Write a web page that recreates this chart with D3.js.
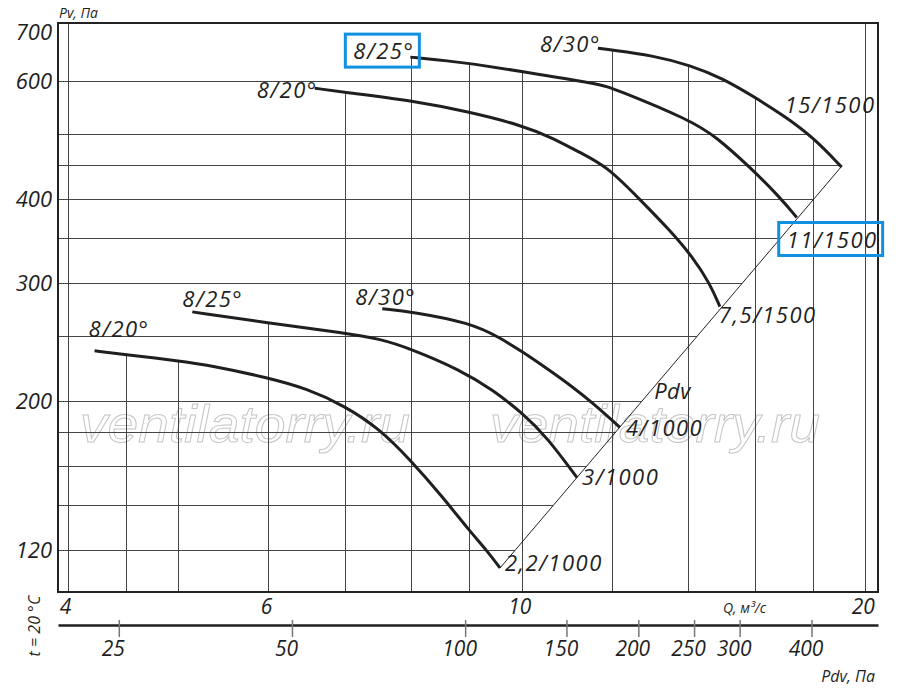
<!DOCTYPE html>
<html lang="ru">
<head>
<meta charset="UTF-8">
<title>Pv / Q</title>
<script src="https://d3js.org/d3.v7.min.js"></script>
<style>
  body { margin: 0; background: #fff; }
  svg { font-family: "Open Sans", sans-serif; font-style: italic; }
  .grid line { stroke: #444; stroke-width: 1; shape-rendering: crispEdges; }
  .curve { fill: none; stroke: #1f1f1f; stroke-width: 3; stroke-linecap: butt; }
  .lbl { font-size: 22px; fill: #1f1f1f; letter-spacing: 1.5px; }
  .small { font-size: 15px; fill: #1f1f1f; }
  .mark { fill: none; stroke: #1090e0; stroke-width: 3; }
  .wm { font-family: "Liberation Sans", sans-serif; font-size: 52px; fill: none; stroke: #c6c6c6; stroke-width: 1; }
</style>
</head>
<body>
<svg id="chart" width="900" height="692"></svg>
<script>
// axes
const qTicks = [4, 6, 10, 20];
const pTicks = [120, 200, 300, 400, 600, 700];
const pdvTicks = [25, 50, 100, 150, 200, 250, 300, 400];
const qGrid = [4, 4.5, 5, 6, 7, 8, 9, 10, 12, 14, 16, 18, 20];
const pGrid = [120, 140, 160, 180, 200, 250, 300, 350, 400, 450, 500, 600];

// n = 1000 rpm
const qLow20 = [4.22, 4.49, 4.98, 5.36, 5.98, 6.48, 6.99, 7.50, 7.97, 8.52, 9.0, 9.31, 9.56];
const pLow20 = [238, 235, 230, 226, 217, 209, 197, 182, 164, 144, 128, 120, 113];
const qLow25 = [5.14, 5.98, 6.99, 7.50, 7.97, 8.82, 9.43, 10.01, 10.51, 11.17];
const pLow25 = [272, 262, 253, 248, 240, 223, 208, 192, 177, 154];
const qLow30 = [7.54, 8.02, 9.0, 9.56, 10.01, 10.51, 11.08, 11.53, 12.18];
const pLow30 = [275, 272, 262, 249, 237, 224, 210, 199, 183];

// n = 1500 rpm
const qHigh20 = [6.58, 6.98, 8.0, 9.0, 9.99, 10.64, 11.23, 11.87, 12.68, 13.47, 14.11, 14.60, 14.90];
const pHigh20 = [586, 578, 562, 540, 516, 494, 470, 448, 400, 360, 328, 300, 277];
const qHigh25 = [7.98, 8.65, 9.0, 9.99, 11.70, 12.01, 14.05, 14.81, 15.83, 16.82, 17.40];
const pHigh25 = [652, 643, 638, 621, 594, 586, 525, 495, 447, 403, 376];
const qHigh30 = [11.65, 12.01, 12.99, 14.05, 14.99, 15.99, 16.99, 18.01, 19.05];
const pHigh30 = [672, 668, 656, 634, 606, 568, 532, 494, 447];

const startNames = ["8/20°", "8/25°", "8/30°", "8/20°", "8/25°", "8/30°"];
const endNames = ["2,2/1000", "3/1000", "4/1000", "7,5/1500", "11/1500", "15/1500"];

// Pdv = K * Q^2
const K = 1.235;

const series = [
  [qLow20, pLow20], [qLow25, pLow25], [qLow30, pLow30],
  [qHigh20, pHigh20], [qHigh25, pHigh25], [qHigh30, pHigh30]
].map(([q, p], i) => ({ q, p, start: startNames[i], end: endNames[i],
  pts: q.map((v, j) => [v, p[j]]) }));

const svg = d3.select("#chart");
const L = 58, R = 878, T = 23, B = 592;

const x = d3.scaleLog().domain([3.92, 20.5]).range([L, R]);
const y = d3.scaleLog().domain([104, 733]).range([B, T]);
const pdv = d3.scaleLog().domain([19.6, 522]).range([L, R]);

// log-log interpolation helpers
function pAtQ(c, q) {
  const n = c.q.length;
  if (q < c.q[0] || q > c.q[n - 1]) return null;
  for (let i = 0; i < n - 1; i++) {
    if (q >= c.q[i] && q <= c.q[i + 1]) {
      const t = Math.log(q / c.q[i]) / Math.log(c.q[i + 1] / c.q[i]);
      return Math.exp(Math.log(c.p[i]) + t * Math.log(c.p[i + 1] / c.p[i]));
    }
  }
  return null;
}
function qAtP(c, p) {
  const n = c.p.length;
  for (let i = 0; i < n - 1; i++) {
    if (p <= c.p[i] && p >= c.p[i + 1]) {
      const t = Math.log(p / c.p[i]) / Math.log(c.p[i + 1] / c.p[i]);
      return Math.exp(Math.log(c.q[i]) + t * Math.log(c.q[i + 1] / c.q[i]));
    }
  }
  return null;
}

// watermark
["ventilatorry.ru", "ventilatorry.ru"].forEach((t, i) => {
  svg.append("text").attr("class", "wm")
    .attr("x", i ? 490 : 80).attr("y", 442)
    .attr("textLength", 330).attr("lengthAdjust", "spacingAndGlyphs")
    .text(t);
});

// grid, cut by the curves and the Pdv line
const qDiagA = qLow20[qLow20.length - 1];
const qDiagB = qHigh30[qHigh30.length - 1];
const pDiagTop = K * qDiagB * qDiagB;

const grid = svg.append("g").attr("class", "grid");
qGrid.forEach(q => {
  const tops = series.map(c => pAtQ(c, q)).filter(v => v != null);
  grid.append("line")
    .attr("x1", x(q)).attr("x2", x(q))
    .attr("y1", tops.length ? y(d3.max(tops)) : T)
    .attr("y2", B);
});
pGrid.forEach(p => {
  let qr;
  if (p <= pDiagTop) qr = Math.sqrt(p / K);
  else qr = d3.max(series.map(c => qAtP(c, p)).filter(v => v != null));
  grid.append("line")
    .attr("x1", L).attr("x2", x(qr))
    .attr("y1", y(p)).attr("y2", y(p));
});

// frame
svg.append("rect").attr("x", L).attr("y", T)
  .attr("width", R - L).attr("height", B - T)
  .attr("fill", "none").attr("stroke", "#222").attr("stroke-width", 2);

// Pdv line
const diag = [qDiagA, qDiagB].map(q => [q, K * q * q]);
svg.append("path")
  .attr("d", d3.line().x(d => x(d[0])).y(d => y(d[1]))(diag))
  .attr("fill", "none").attr("stroke", "#222").attr("stroke-width", 1);

// curves
const line = d3.line().x(d => x(d[0])).y(d => y(d[1])).curve(d3.curveBasis);
svg.selectAll(".curve").data(series).join("path")
  .attr("class", "curve").attr("d", d => line(d.pts));

// curve labels: [dx, dy, anchor] from first / last point
const startOff = [[-6, -14, "start"], [-10, -5, "start"], [-27, -4, "start"],
                  [3, 10, "end"], [4, 2, "end"], [3, 4, "end"]];
const endOff = [[5, 3], [5, 7], [6, 9], [-1, 16], [-10, 30], [-57, -54]];
const marked = [];
series.forEach((c, i) => {
  const a = c.pts[0], b = c.pts[c.pts.length - 1];
  const s = svg.append("text").attr("class", "lbl")
    .attr("x", x(a[0]) + startOff[i][0]).attr("y", y(a[1]) + startOff[i][1])
    .attr("text-anchor", startOff[i][2]).text(c.start);
  const e = svg.append("text").attr("class", "lbl")
    .attr("x", x(b[0]) + endOff[i][0]).attr("y", y(b[1]) + endOff[i][1])
    .text(c.end);
  if (i === 4) { marked.push(s, e); }
});
const pPdv = 202;
svg.append("text").attr("class", "lbl").style("letter-spacing", "0.5px")
  .attr("x", x(Math.sqrt(pPdv / K)) + 10).attr("y", y(pPdv)).text("Pdv");

// highlight boxes
marked.forEach(t => {
  const bb = t.node().getBBox();
  svg.append("rect").attr("class", "mark")
    .attr("x", bb.x - 8).attr("y", bb.y - 1)
    .attr("width", bb.width + 13).attr("height", bb.height + 3);
});

// axes
const yAxis = svg.append("g").attr("transform", `translate(${L},0)`)
  .call(d3.axisLeft(y).tickValues(pTicks).tickSize(0).tickPadding(6).tickFormat(d3.format("d")));
const qAxis = svg.append("g").attr("transform", `translate(0,${B})`)
  .call(d3.axisBottom(x).tickValues(qTicks).tickSize(0).tickPadding(7).tickFormat(d3.format("d")));
const pdvAxis = svg.append("g").attr("transform", "translate(0,625)")
  .call(d3.axisBottom(pdv).tickValues(pdvTicks).tickSizeInner(12).tickSizeOuter(0).tickPadding(4).tickFormat(d3.format("d")));

[yAxis, qAxis].forEach(g => g.select(".domain").remove());
[yAxis, qAxis, pdvAxis].forEach(g => {
  g.attr("font-family", null).attr("font-size", null);
  g.selectAll("text").style("font-size", "21px").attr("fill", "#1f1f1f");
});
yAxis.selectAll("text").style("font-size", "22px");
// top label sits a little above its value in the original
yAxis.selectAll(".tick").filter(d => d === 700).select("text").attr("y", -4);
qAxis.selectAll("text").attr("dx", -3);
pdvAxis.selectAll("text").attr("dx", -6);
pdvAxis.select(".domain").attr("stroke", "#1f1f1f").attr("stroke-width", 2.5);
pdvAxis.selectAll(".tick line").attr("y1", -5).attr("stroke", "#777").attr("stroke-width", 1.5);

// axis titles
svg.append("text").attr("class", "small").style("font-size", "14px")
  .attr("x", 59).attr("y", 18).text("Pv, Па");
svg.append("text").attr("class", "small").style("font-size", "14px")
  .attr("x", 723).attr("y", 613).text("Q, м³/с");
svg.append("text").attr("class", "small").style("font-size", "16px")
  .attr("x", 875).attr("y", 682).attr("text-anchor", "end").text("Pdv, Па");
svg.append("text").attr("class", "small").style("font-size", "16px")
  .attr("transform", "translate(40,626) rotate(-90)")
  .attr("text-anchor", "middle").text("t = 20 °C");
</script>
</body>
</html>
